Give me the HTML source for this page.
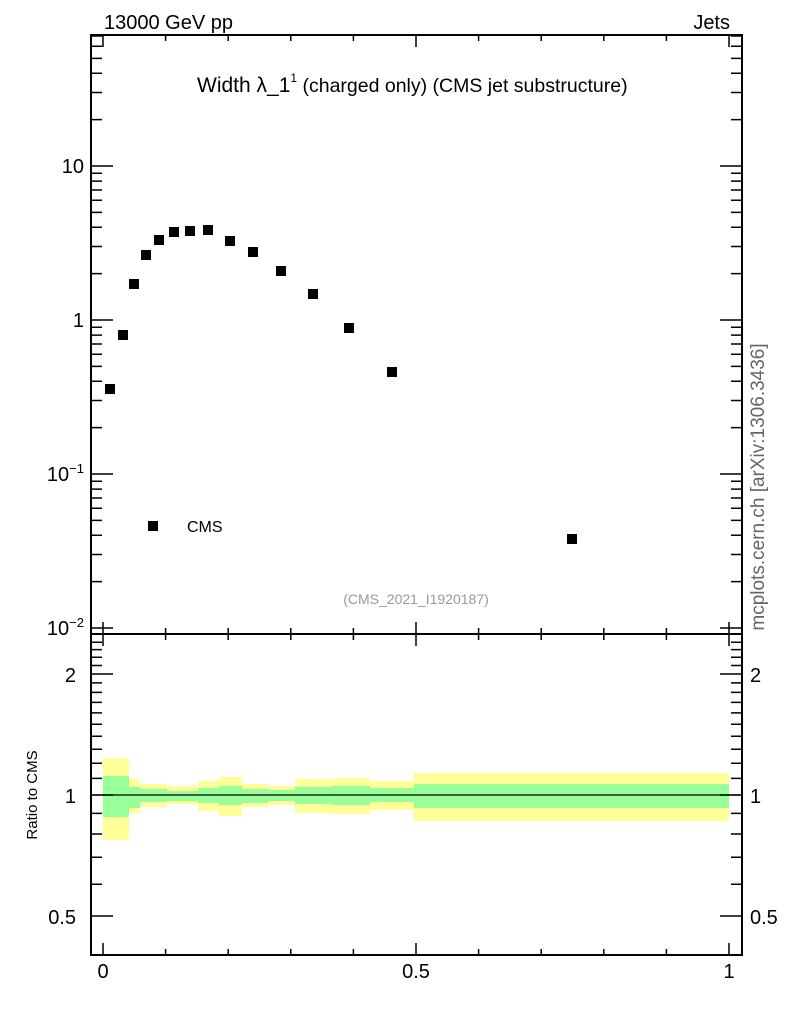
<!DOCTYPE html>
<html><head><style>body{margin:0;background:#fff}svg text{font-family:"Liberation Sans",sans-serif}</style></head>
<body>
<svg width="786" height="1024" viewBox="0 0 786 1024" xmlns="http://www.w3.org/2000/svg">
<text x="104" y="29" font-size="20">13000 GeV pp</text>
<text x="730" y="29" font-size="20" text-anchor="end">Jets</text>
<text x="197" y="92" font-size="21">Width λ_1<tspan font-size="12" dy="-10">1</tspan><tspan font-size="19.5" dy="10"> (charged only) (CMS jet substructure)</tspan></text>
<text x="416" y="604" font-size="14" fill="#999" text-anchor="middle">(CMS_2021_I1920187)</text>
<text transform="translate(764,487) rotate(-90)" font-size="19" fill="#666" text-anchor="middle">mcplots.cern.ch [arXiv:1306.3436]</text>
<text transform="translate(37,795) rotate(-90)" font-size="15" text-anchor="middle">Ratio to CMS</text>
<g fill="#ffff99">
<rect x="103" y="758" width="26" height="82"/><rect x="129" y="779" width="11" height="34"/><rect x="140" y="784" width="27" height="23"/><rect x="167" y="786" width="31" height="18"/><rect x="198" y="781" width="21" height="30"/><rect x="219" y="777" width="23" height="39"/><rect x="242" y="784" width="26" height="23"/><rect x="268" y="786" width="27" height="19"/><rect x="295" y="779" width="37" height="34"/><rect x="332" y="778" width="38" height="36"/><rect x="370" y="781" width="44" height="29"/><rect x="414" y="773" width="315" height="48"/>
</g>
<g fill="#99ff99">
<rect x="103" y="776" width="26" height="41"/><rect x="129" y="787" width="11" height="21"/><rect x="140" y="789" width="27" height="13"/><rect x="167" y="791" width="31" height="10"/><rect x="198" y="788" width="21" height="15"/><rect x="219" y="786" width="23" height="19"/><rect x="242" y="789" width="26" height="14"/><rect x="268" y="790" width="27" height="11"/><rect x="295" y="787" width="37" height="17"/><rect x="332" y="786" width="38" height="19"/><rect x="370" y="788" width="44" height="14"/><rect x="414" y="784" width="315" height="24"/>
</g>
<line x1="91" y1="795" x2="742" y2="795" stroke="#000" stroke-width="1.3"/>
<g fill="#000">
<rect x="105" y="384" width="10" height="10"/><rect x="118" y="330" width="10" height="10"/><rect x="129" y="279" width="10" height="10"/><rect x="141" y="250" width="10" height="10"/><rect x="154" y="235" width="10" height="10"/><rect x="169" y="227" width="10" height="10"/><rect x="185" y="226" width="10" height="10"/><rect x="203" y="225" width="10" height="10"/><rect x="225" y="236" width="10" height="10"/><rect x="248" y="247" width="10" height="10"/><rect x="276" y="266" width="10" height="10"/><rect x="308" y="289" width="10" height="10"/><rect x="344" y="323" width="10" height="10"/><rect x="387" y="367" width="10" height="10"/><rect x="567" y="534" width="10" height="10"/>
<rect x="148" y="521" width="10" height="10"/>
</g>
<text x="187" y="532" font-size="16">CMS</text>
<g fill="none" stroke="#000" stroke-width="2">
<rect x="91" y="35" width="651" height="599"/>
<rect x="91" y="634" width="651" height="321"/>
</g>
<path stroke="#000" stroke-width="1.5" fill="none" d="
M103 35v12M165.6 35v6M228.2 35v6M290.8 35v6M353.4 35v6M416 35v12M478.6 35v6M541.2 35v6M603.8 35v6M666.4 35v6M729 35v12
M103 634v-12M165.6 634v-6M228.2 634v-6M290.8 634v-6M353.4 634v-6M416 634v-12M478.6 634v-6M541.2 634v-6M603.8 634v-6M666.4 634v-6M729 634v-12
M103 634v12M165.6 634v6M228.2 634v6M290.8 634v6M353.4 634v6M416 634v12M478.6 634v6M541.2 634v6M603.8 634v6M666.4 634v6M729 634v12
M103 955v-12M165.6 955v-6M228.2 955v-6M290.8 955v-6M353.4 955v-6M416 955v-12M478.6 955v-6M541.2 955v-6M603.8 955v-6M666.4 955v-6M729 955v-12
"/>
<path stroke="#000" stroke-width="1.5" fill="none" d="
M91 166h22M91 119.6h11M91 92.5h11M91 73.3h11M91 58.4h11M91 46.2h11M91 36h11
M91 320h22M91 273.6h11M91 246.5h11M91 227.3h11M91 212.4h11M91 200.2h11M91 190h11M91 181.1h11M91 173.3h11
M91 474h22M91 427.6h11M91 400.5h11M91 381.3h11M91 366.4h11M91 354.2h11M91 344h11M91 335.1h11M91 327.3h11
M91 628h22M91 581.6h11M91 554.5h11M91 535.3h11M91 520.4h11M91 508.2h11M91 498h11M91 489.1h11M91 481.3h11
M742 166h-22M742 119.6h-11M742 92.5h-11M742 73.3h-11M742 58.4h-11M742 46.2h-11M742 36h-11
M742 320h-22M742 273.6h-11M742 246.5h-11M742 227.3h-11M742 212.4h-11M742 200.2h-11M742 190h-11M742 181.1h-11M742 173.3h-11
M742 474h-22M742 427.6h-11M742 400.5h-11M742 381.3h-11M742 366.4h-11M742 354.2h-11M742 344h-11M742 335.1h-11M742 327.3h-11
M742 628h-22M742 581.6h-11M742 554.5h-11M742 535.3h-11M742 520.4h-11M742 508.2h-11M742 498h-11M742 489.1h-11M742 481.3h-11
"/>
<path stroke="#000" stroke-width="1.5" fill="none" d="
M91 916h22M91 884.2h11M91 857.3h11M91 834h11M91 813.4h11M91 795h22M91 778.4h11M91 763.2h11M91 749.2h11M91 736.3h11M91 724.2h11M91 712.9h11M91 702.4h11M91 692.4h11M91 682.9h11M91 674h22M91 665.5h11M91 657.3h11M91 649.6h11M91 642.2h11
M742 916h-22M742 884.2h-11M742 857.3h-11M742 834h-11M742 813.4h-11M742 795h-22M742 778.4h-11M742 763.2h-11M742 749.2h-11M742 736.3h-11M742 724.2h-11M742 712.9h-11M742 702.4h-11M742 692.4h-11M742 682.9h-11M742 674h-22M742 665.5h-11M742 657.3h-11M742 649.6h-11M742 642.2h-11
"/>
<g font-size="20">
<text x="84" y="173" text-anchor="end">10</text>
<text x="84" y="327" text-anchor="end">1</text>
<text x="84" y="481" text-anchor="end">10<tspan font-size="13" dy="-8">−1</tspan></text>
<text x="84" y="635" text-anchor="end">10<tspan font-size="13" dy="-8">−2</tspan></text>
<text x="76" y="682" text-anchor="end">2</text>
<text x="76" y="803" text-anchor="end">1</text>
<text x="76" y="924" text-anchor="end">0.5</text>
<text x="750" y="682">2</text>
<text x="750" y="803">1</text>
<text x="750" y="924">0.5</text>
<text x="103" y="978" text-anchor="middle">0</text>
<text x="416" y="978" text-anchor="middle">0.5</text>
<text x="729" y="978" text-anchor="middle">1</text>
</g>
</svg>
</body></html>
